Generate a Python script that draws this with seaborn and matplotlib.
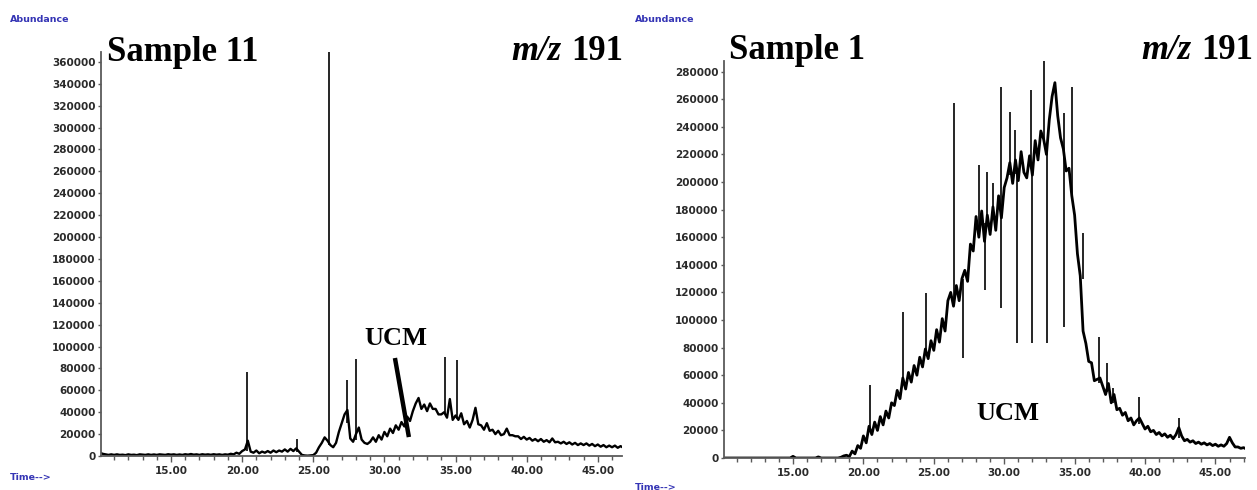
import numpy as np
import pandas as pd
import matplotlib
matplotlib.use("Agg")
import matplotlib.pyplot as plt
import seaborn as sns
from matplotlib.ticker import MultipleLocator, FormatStrFormatter

# ---------------- data (abundance in thousands, time in minutes) ----------------
# Sample 11 (m/z 191): trace sampled every 0.2 min starting at 10.0 min
s11_t0, s11_dt = 10.0, 0.2
s11_abund_k = [
    # 10.0 - 19.4
    3, 2, 1.5, 1, 1.5, 1, 1.5, 1, 1.2, 0.8, 1.5, 1, 1.2, 0.8, 1.5, 1.2, 1, 1.5, 1, 1.4,
    1, 1.5, 1.2, 1, 1.6, 1.2, 1.5, 1, 1.4, 1, 1.6, 1.2, 1.8, 1.2, 1.5, 1, 1.6, 1.2, 1.5, 1.1,
    1.6, 1.2, 1.5, 1, 1.5, 1.2, 2, 1.5,
    # 19.6 - 25.0
    3, 2, 4.5, 6, 14, 4, 3, 5, 2.5, 4, 3, 4.5, 3, 5, 3.5, 5, 4, 6, 4, 6.5,
    4.5, 7, 4, 1, 0.5, 0.3, 0.5, 0.8,
    # 25.2 - 29.0
    3, 8, 12, 17, 14, 10, 8, 12, 22, 30, 38, 42, 16, 13, 20, 26, 15, 12, 11, 13,
    # 29.2 - 33.0
    17, 13, 19, 15, 22, 18, 25, 21, 28, 24, 31, 27, 36, 32, 41, 48, 53, 43, 47, 41,
    # 33.2 - 37.0
    48, 43, 43, 38, 38, 40, 35, 52, 33, 37, 33, 39, 29, 32, 26, 33, 44, 29, 28, 24,
    # 37.2 - 41.0
    30, 23, 24, 20, 23, 19, 20, 25, 19, 19, 18, 18, 15.5, 17.5, 15, 16.5, 14, 15.5, 13.5, 15.5,
    # 41.2 - 46.8
    13, 14.5, 12.5, 16, 12.5, 13, 11.5, 13, 11, 12.5, 10.5, 12, 10, 11.5, 10, 11.5, 9.5, 11,
    9, 10.5, 8.5, 10, 8, 9.5, 8, 9.5, 7.5, 9, 7.5,
]
# narrow peaks: retention time, foot and apex abundance (thousands)
s11_peak_t = [20.34, 23.85, 26.10, 27.37, 28.00, 34.25, 35.10]
s11_peak_low_k = [5, 4, 10, 30, 15, 38, 34]
s11_peak_high_k = [77, 15.5, 369, 69, 88.5, 90, 87.6]
s11_ucm_pointer_t = [30.74, 31.72]
s11_ucm_pointer_k = [89.5, 17.3]

# Sample 1 (m/z 191): trace sampled every 0.2 min starting at 10.0 min
s1_t0, s1_dt = 10.0, 0.2
s1_abund_k = [
    # 10.0 - 18.2
    0, 0, 0, 0, 0, 0, 0, 0, 0, 0, 0, 0, 0, 0, 0, 0, 0, 0, 0, 0,
    0, 0, 0, 0, 0, 1.2, 0, 0, 0, 0, 0, 0, 0, 0, 0.8, 0, 0, 0, 0, 0,
    0, 0,
    # 18.4 - 22.0
    0.5, 1.5, 2, 1, 5, 3, 9, 7, 16, 11, 23, 17, 26, 20, 30, 24, 34, 29, 40,
    # 22.2 - 26.0
    38, 49, 43, 58, 50, 62, 55, 67, 60, 73, 66, 79, 72, 85, 78, 93, 84, 101, 92, 114,
    # 26.2 - 30.0
    120, 110, 125, 114, 130, 136, 128, 155, 150, 175, 160, 179, 157, 176, 162, 182, 165, 190, 174, 196,
    # 30.2 - 34.0
    203, 214, 199, 216, 201, 222, 207, 203, 219, 205, 230, 216, 237, 231, 220, 245, 262, 272, 248, 232,
    # 34.2 - 38.0
    224, 208, 210, 190, 176, 148, 132, 92, 83, 70, 69, 56, 57, 58, 52, 46, 54, 40, 46, 35,
    # 38.2 - 42.0
    36, 31, 33, 27, 29, 24, 27, 29, 25, 21, 23, 19, 20, 17, 18.5, 16, 17.5, 15, 16.5, 14,
    # 42.2 - 47.2
    17, 22, 16, 12.5, 13.5, 11.5, 12.5, 10.5, 11.5, 10, 11, 9.5, 10.5, 9, 10, 8.5, 9.5, 8.5,
    10.5, 15, 11, 8, 8, 7, 7.5, 6.5,
]
s1_peak_t = [20.5, 22.8, 24.45, 26.4, 27.1, 28.2, 28.65, 28.8, 29.2, 29.8, 30.4, 30.8,
             30.9, 31.9, 32.0, 32.8, 33.05, 34.25, 34.8, 35.6, 36.75, 37.3, 37.75, 39.6, 42.4]
s1_peak_low_k = [20, 55, 75, 115, 72.5, 165, 122, 170, 175, 108.7, 205, 206,
                 83, 210, 83, 230, 83, 95, 190, 130, 54, 48, 40, 25, 14.5]
s1_peak_high_k = [53, 106, 119.5, 257, 130, 212, 170, 207, 199, 269, 251, 238,
                  206, 267, 210, 288, 224, 250, 269, 163, 87.7, 69, 50.7, 44, 29]

# ---------------- styling ----------------
sns.set_style("white")
plt.rcParams["font.family"] = ["DejaVu Sans"]
plt.rcParams["text.color"] = "black"

W, H = 1257, 490
fig = plt.figure(figsize=(W / 100, H / 100), dpi=100)


def fx(px):
    return px / W


def fy(py):
    return 1 - py / H


axL = fig.add_axes([fx(101), fy(456), fx(622) - fx(101), fy(52) - fy(456)])
axR = fig.add_axes([fx(724), fy(458), fx(1245) - fx(724), fy(61) - fy(458)])


def draw(ax, t0, dt, abund_k, pk_t, pk_lo, pk_hi, xlim, ylim, lw):
    vals = np.asarray(abund_k, dtype=float) * 1000
    times = np.round(t0 + dt * np.arange(len(vals)), 2)
    df = pd.DataFrame({"time": times, "abundance": vals})
    sns.lineplot(data=df, x="time", y="abundance", ax=ax, color="black",
                 linewidth=lw, estimator=None, sort=False, legend=False)
    ax.vlines(pk_t, np.asarray(pk_lo) * 1000, np.asarray(pk_hi) * 1000,
              color="black", linewidth=1.2)
    ax.set_xlim(*xlim)
    ax.set_ylim(*ylim)
    ax.set_xlabel("")
    ax.set_ylabel("")
    for s in ("top", "right"):
        ax.spines[s].set_visible(False)
    for s in ("left", "bottom"):
        ax.spines[s].set_color("#5a5a5a")
        ax.spines[s].set_linewidth(1.3)
    ax.xaxis.set_major_locator(MultipleLocator(5))
    ax.xaxis.set_minor_locator(MultipleLocator(1))
    ax.xaxis.set_major_formatter(FormatStrFormatter("%.2f"))
    ax.yaxis.set_major_locator(MultipleLocator(20000))
    ax.yaxis.set_major_formatter(FormatStrFormatter("%d"))
    ax.tick_params(axis="x", which="major", direction="out", length=4, width=1,
                   color="#5a5a5a", labelsize=7.5, labelcolor="#2a2a2a", pad=3, bottom=True)
    ax.tick_params(axis="x", which="minor", direction="out", length=3, width=1,
                   color="#5a5a5a", bottom=True)
    ax.tick_params(axis="y", which="major", direction="out", length=2, width=1,
                   color="#5a5a5a", labelsize=7.5, labelcolor="#2a2a2a", pad=2, left=True)
    for lab in ax.get_xticklabels() + ax.get_yticklabels():
        lab.set_fontweight("bold")
    ax.grid(False)
    ax.set_facecolor("white")


draw(axL, s11_t0, s11_dt, s11_abund_k, s11_peak_t, s11_peak_low_k, s11_peak_high_k,
     (10.08, 46.7), (0, 369000), 1.7)
draw(axR, s1_t0, s1_dt, s1_abund_k, s1_peak_t, s1_peak_low_k, s1_peak_high_k,
     (10.1, 47.1), (0, 287700), 2.0)

# UCM pointer on Sample 11
axL.plot(s11_ucm_pointer_t, np.asarray(s11_ucm_pointer_k) * 1000, color="black",
         linewidth=3.2, solid_capstyle="butt")

serif = ["Liberation Serif", "DejaVu Serif"]
blue = "#3535b5"

# Titles
fig.text(fx(107), fy(61), "Sample 11", family=serif, weight="bold", size=25,
         color="black", ha="left", va="baseline")
fig.text(fx(729), fy(59), "Sample 1", family=serif, weight="bold", size=25,
         color="black", ha="left", va="baseline")

renderer = fig.canvas.get_renderer()
for xr, yb in ((623, 60), (1253, 59)):
    num = fig.text(fx(xr), fy(yb), "191", family=serif, weight="bold", size=25,
                   color="black", ha="right", va="baseline")
    bb = num.get_window_extent(renderer=renderer)
    fig.text(fx(bb.x0 - 10), fy(yb), "m/z", family=serif, weight="bold",
             style="italic", size=25, color="black", ha="right", va="baseline")

# UCM labels
fig.text(fx(396), fy(345), "UCM", family=serif, weight="bold", size=19,
         color="black", ha="center", va="baseline")
fig.text(fx(1008), fy(420), "UCM", family=serif, weight="bold", size=19,
         color="black", ha="center", va="baseline")

# Axis captions
fig.text(fx(10), fy(19), "Abundance", color=blue, size=6.8, weight="bold",
         ha="left", va="center")
fig.text(fx(635), fy(20), "Abundance", color=blue, size=6.8, weight="bold",
         ha="left", va="center")
fig.text(fx(10), fy(477), "Time-->", color=blue, size=6.8, weight="bold",
         ha="left", va="center")
fig.text(fx(635), fy(487), "Time-->", color=blue, size=6.8, weight="bold",
         ha="left", va="center")

fig.savefig("out.png", dpi=100, facecolor="white")
